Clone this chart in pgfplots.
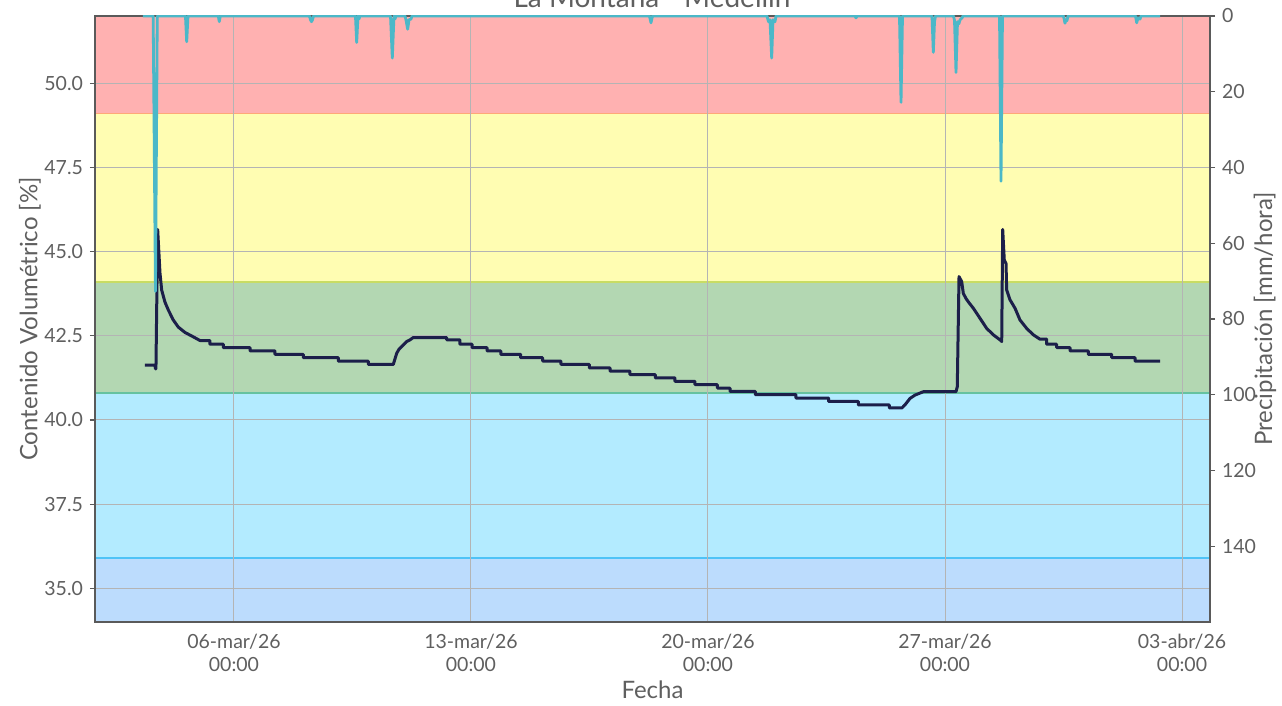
\documentclass[border=0pt]{standalone}
\usepackage{fontspec}
\setmainfont{Lato}
\usepackage{pgfplots}
\pgfplotsset{compat=1.18}
\definecolor{cRed}{HTML}{FFB1B1}
\definecolor{cYel}{HTML}{FFFDB2}
\definecolor{cGrn}{HTML}{B3D7B2}
\definecolor{cCya}{HTML}{B3EBFF}
\definecolor{cBlu}{HTML}{BCDCFD}
\definecolor{lRY}{HTML}{FFA878}
\definecolor{lYG}{HTML}{C8DC64}
\definecolor{lGC}{HTML}{66C2A0}
\definecolor{lCB}{HTML}{4FC3F7}
\definecolor{cGrid}{HTML}{B4B4B4}
\definecolor{cAxis}{HTML}{5A5A5A}
\definecolor{cText}{HTML}{5F5F5F}
\definecolor{cSoil}{HTML}{1C1F4A}
\definecolor{cRain}{HTML}{4BB8C8}
\begin{document}
\begin{tikzpicture}
\pgfplotsset{common/.style={at={(47.5pt,42pt)}, anchor=south west,
  width=557.5pt, height=303pt, scale only axis, xmin=0.895, xmax=33.827,
  tick label style={font=\fontsize{9.75}{11.7}\selectfont, text=cText},
  /pgf/number format/assume math mode=true}}
% bands
\begin{axis}[common, ymin=34, ymax=52, hide axis]
\addplot[draw=none, fill=cRed] coordinates {(0,49.1)(35,49.1)(35,53)(0,53)} -- cycle;
\addplot[draw=none, fill=cYel] coordinates {(0,44.1)(35,44.1)(35,49.1)(0,49.1)} -- cycle;
\addplot[draw=none, fill=cGrn] coordinates {(0,40.8)(35,40.8)(35,44.1)(0,44.1)} -- cycle;
\addplot[draw=none, fill=cCya] coordinates {(0,35.9)(35,35.9)(35,40.8)(0,40.8)} -- cycle;
\addplot[draw=none, fill=cBlu] coordinates {(0,33)(35,33)(35,35.9)(0,35.9)} -- cycle;
\addplot[lRY, line width=0.6pt] coordinates {(0,49.1)(35,49.1)};
\addplot[lYG, line width=0.6pt] coordinates {(0,44.1)(35,44.1)};
\addplot[lGC, line width=0.6pt] coordinates {(0,40.8)(35,40.8)};
\addplot[lCB, line width=0.6pt] coordinates {(0,35.9)(35,35.9)};
\end{axis}
% soil moisture
\begin{axis}[common, ymin=34, ymax=52,
  axis line style={cAxis, line width=0.6pt},
  grid=major, major grid style={cGrid, line width=0.5pt},
  ytick={35,37.5,40,42.5,45,47.5,50}, ytick pos=left,
  yticklabel style={/pgf/number format/.cd, fixed, fixed zerofill, precision=1, assume math mode=true},
  xtick={5,12,19,26,33},
  xticklabels={{06-mar/26\\00:00},{13-mar/26\\00:00},{20-mar/26\\00:00},{27-mar/26\\00:00},{03-abr/26\\00:00}},
  xticklabel style={align=center},
  xtick style={draw=none},
  ytick style={cAxis, line width=0.6pt},
  tick align=outside, major tick length=2.5pt,
  xlabel={Fecha}, ylabel={Contenido Volumétrico [\%]},
  every axis y label/.style={at={(axis description cs:0,0.5)}, xshift=-32.5pt, rotate=90, anchor=center, font=\fontsize{12}{14}\selectfont, text=cText},
  every axis x label/.style={at={(axis description cs:0.5,0)}, anchor=center, yshift=-34pt, font=\fontsize{12}{14}\selectfont, text=cText},
]
\addplot[cSoil, line width=1.5pt, line join=round] coordinates {
(2.371,41.63)(2.667,41.63)(2.680,41.52)(2.695,41.52)(2.746,45.66)(2.814,44.37)(2.864,43.86)(2.962,43.50)(3.059,43.27)(3.207,42.97)(3.355,42.76)(3.553,42.60)(3.798,42.47)(3.996,42.36)(4.291,42.36)(4.291,42.25)(4.684,42.25)(4.684,42.15)(5.473,42.15)(5.473,42.05)(6.211,42.05)(6.211,41.95)(7.047,41.95)(7.047,41.85)(8.081,41.85)(8.081,41.75)(8.967,41.75)(8.967,41.65)(9.705,41.65)(9.805,41.98)(9.873,42.10)(9.953,42.18)(10.021,42.25)(10.101,42.33)(10.198,42.38)(10.296,42.45)(11.282,42.45)(11.282,42.38)(11.675,42.38)(11.675,42.25)(12.030,42.25)(12.030,42.15)(12.473,42.15)(12.473,42.05)(12.880,42.05)(12.880,41.95)(13.468,41.95)(13.468,41.85)(14.118,41.85)(14.118,41.75)(14.658,41.75)(14.658,41.65)(15.494,41.65)(15.494,41.55)(16.106,41.55)(16.106,41.45)(16.696,41.45)(16.696,41.35)(17.443,41.35)(17.443,41.25)(18.025,41.25)(18.025,41.15)(18.616,41.15)(18.616,41.05)(19.275,41.05)(19.275,40.95)(19.650,40.95)(19.650,40.85)(20.397,40.85)(20.397,40.75)(21.599,40.75)(21.599,40.65)(22.565,40.65)(22.565,40.55)(23.439,40.55)(23.439,40.45)(24.355,40.45)(24.355,40.36)(24.730,40.36)(24.819,40.45)(24.966,40.64)(25.114,40.74)(25.262,40.80)(25.359,40.84)(26.325,40.84)(26.363,40.99)(26.414,44.26)(26.493,44.11)(26.541,43.76)(26.620,43.61)(26.688,43.51)(26.836,43.32)(27.034,43.02)(27.232,42.72)(27.427,42.53)(27.625,42.38)(27.675,42.33)(27.704,45.66)(27.751,44.75)(27.802,44.65)(27.822,43.86)(27.920,43.57)(28.068,43.32)(28.215,42.97)(28.413,42.72)(28.608,42.53)(28.806,42.40)(29.004,42.40)(29.004,42.25)(29.299,42.25)(29.299,42.15)(29.692,42.15)(29.692,42.05)(30.233,42.05)(30.233,41.95)(30.924,41.95)(30.924,41.85)(31.612,41.85)(31.612,41.75)(32.350,41.75)
};
\end{axis}
% rain
\begin{axis}[common, ymin=0, ymax=160, y dir=reverse,
  axis x line=none, axis y line*=right,
  axis line style={cAxis, line width=0.6pt},
  ytick={0,20,40,60,80,100,120,140},
  ytick style={cAxis, line width=0.6pt},
  tick align=outside, major tick length=2.5pt,
  ylabel={Precipitación [mm/hora]},
  every axis y label/.style={at={(axis description cs:1,0.5)}, xshift=27.5pt, rotate=90, anchor=center, font=\fontsize{12}{14}\selectfont, text=cText},
]
\addplot[cRain, line width=1.4pt, line join=round] coordinates {
(2.312,0)(2.613,0)(2.681,72.7)(2.734,0)(3.567,0)(3.603,6.8)(3.641,0)(4.536,0)(4.566,1.5)(4.595,0)
(7.230,0)(7.259,1.0)(7.289,1.5)(7.318,1.0)(7.348,0)(8.588,0)(8.624,7.0)(8.662,0)(8.692,0.8)(8.721,0)
(9.623,0)(9.676,11.1)(9.726,0)(9.755,0.8)(9.785,0)(10.051,0)(10.080,1.0)(10.130,3.5)(10.169,1.0)(10.228,0.8)(10.257,0)
(17.272,0)(17.316,1.8)(17.361,0)(20.743,0)(20.787,1.5)(20.831,1.0)(20.881,11.1)(20.920,1.0)(20.979,1.5)(21.008,0)
(23.342,0)(23.371,0.5)(23.401,0)(24.656,0)(24.701,22.8)(24.745,0)(25.616,0)(25.655,9.6)(25.690,1.5)(25.719,0)
(26.251,0)(26.281,1.2)(26.325,14.9)(26.369,1.5)(26.414,2.0)(26.443,1.0)(26.502,0.5)(26.532,0)
(27.610,0)(27.654,43.6)(27.698,0)(29.500,0)(29.544,1.9)(29.574,1.0)(29.603,1.2)(29.633,0)
(31.627,0)(31.662,1.8)(31.700,0.5)(31.760,0.8)(31.789,0)(32.350,0)
};
\end{axis}
\node[anchor=base, font=\fontsize{14}{16}\selectfont, text=cText] at (326pt,349.4pt) {La Montaña - Medellín};
\pgfresetboundingbox
\useasboundingbox (0,0) rectangle (641pt,353pt);
\end{tikzpicture}
\end{document}
